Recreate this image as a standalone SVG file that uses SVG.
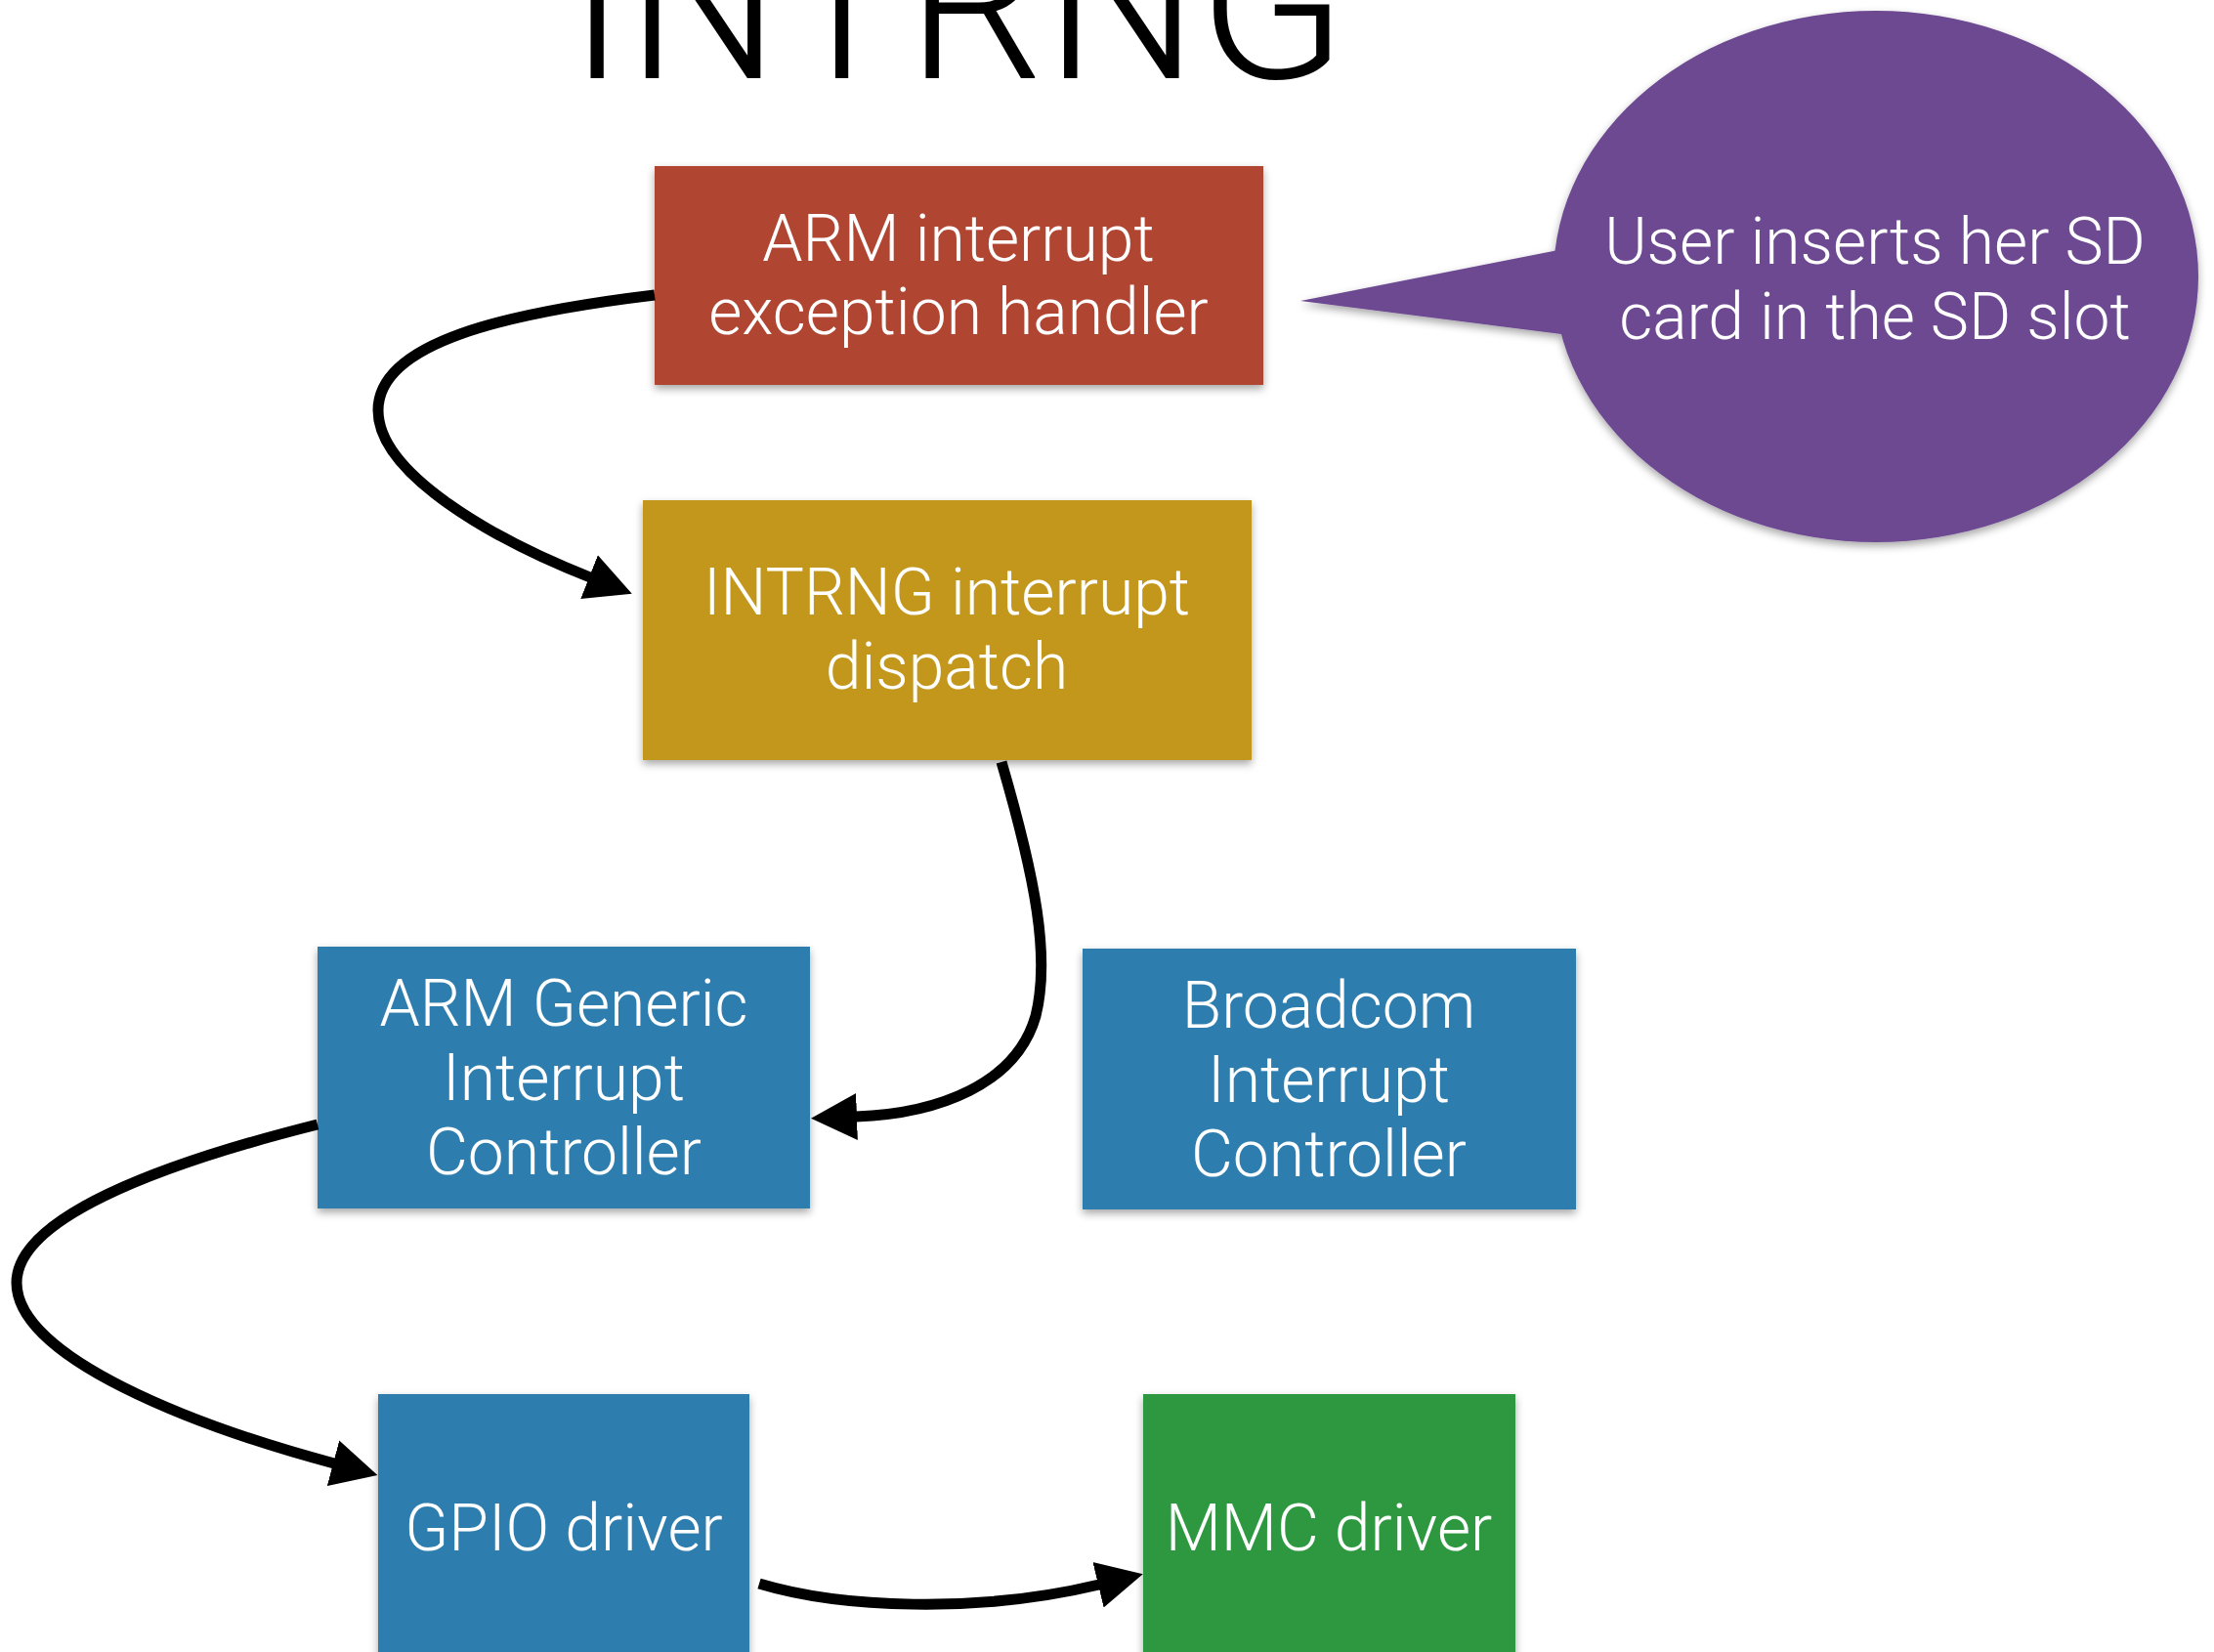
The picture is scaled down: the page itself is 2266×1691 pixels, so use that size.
<svg xmlns="http://www.w3.org/2000/svg" width="2266" height="1691" viewBox="0 0 2266 1691">
  <defs>
    <style>
      .label { font-family: Roboto, "Liberation Sans", sans-serif; font-weight: 300; font-size: 66px; fill: #ffffff; text-anchor: middle; }
      .title { font-family: Roboto, "Liberation Sans", sans-serif; font-weight: 300; font-size: 222px; fill: #000000; text-anchor: middle; }
      .wire { fill: none; stroke: #000000; stroke-width: 11; stroke-linecap: butt; marker-end: url(#arrowhead); }
      .box { filter: url(#shadow); }
    </style>
    <filter id="shadow" x="-10%" y="-10%" width="120%" height="125%">
      <feDropShadow dx="0" dy="4" stdDeviation="4" flood-color="#000000" flood-opacity="0.35"/>
    </filter>
    <marker id="arrowhead" markerUnits="userSpaceOnUse" markerWidth="50" markerHeight="50" refX="1" refY="25" orient="auto">
      <path d="M0,1 L47,25 L0,49 z" fill="#000000"/>
    </marker>
  </defs>

  <rect width="2266" height="1691" fill="#ffffff"/>

  <text class="title" x="980" y="80">INTRNG</text>

  <!-- nodes -->
  <g id="node-arm-exception-handler">
    <rect class="box" x="670" y="170" width="623" height="224" fill="#b04532"/>
    <text class="label" x="981" y="267">ARM interrupt</text>
    <text class="label" x="981" y="342">exception handler</text>
  </g>

  <g id="node-intrng-dispatch">
    <rect class="box" x="658" y="512" width="623" height="266" fill="#c2971e"/>
    <text class="label" x="969" y="629">INTRNG interrupt</text>
    <text class="label" x="969" y="705">dispatch</text>
  </g>

  <g id="node-arm-gic">
    <rect class="box" x="325" y="969" width="504" height="268" fill="#2e7daf"/>
    <text class="label" x="577" y="1050">ARM Generic</text>
    <text class="label" x="577" y="1126">Interrupt</text>
    <text class="label" x="577" y="1202">Controller</text>
  </g>

  <g id="node-broadcom-ic">
    <rect class="box" x="1108" y="971" width="505" height="267" fill="#2e7daf"/>
    <text class="label" x="1360" y="1052">Broadcom</text>
    <text class="label" x="1360" y="1128">Interrupt</text>
    <text class="label" x="1360" y="1204">Controller</text>
  </g>

  <g id="node-gpio-driver">
    <rect class="box" x="387" y="1427" width="380" height="276" fill="#2e7daf"/>
    <text class="label" x="577" y="1587">GPIO driver</text>
  </g>

  <g id="node-mmc-driver">
    <rect class="box" x="1170" y="1427" width="381" height="276" fill="#2e9840"/>
    <text class="label" x="1360" y="1587">MMC driver</text>
  </g>

  <g id="callout-sd-card">
    <g class="box">
      <ellipse cx="1920" cy="283" rx="330" ry="272" fill="#6c4991"/>
      <path d="M1600,255 L1331,308 L1606,343 z" fill="#6c4991"/>
    </g>
    <text class="label" x="1919" y="270">User inserts her SD</text>
    <text class="label" x="1919" y="347">card in the SD slot</text>
  </g>

  <!-- connectors -->
  <g id="connectors">
    <path class="wire" d="M670,302 C520,320 387,350 387,420 C387,485 505,552 604,591"/>
    <path class="wire" d="M1025,780 C1060,900 1075,980 1060,1040 C1040,1110 960,1140 876,1143"/>
    <path class="wire" d="M325,1151 C150,1195 17,1250 17,1313 C17,1390 200,1460 342,1498"/>
    <path class="wire" d="M777,1621 C860,1646 1000,1652 1125,1622"/>
  </g>
</svg>
